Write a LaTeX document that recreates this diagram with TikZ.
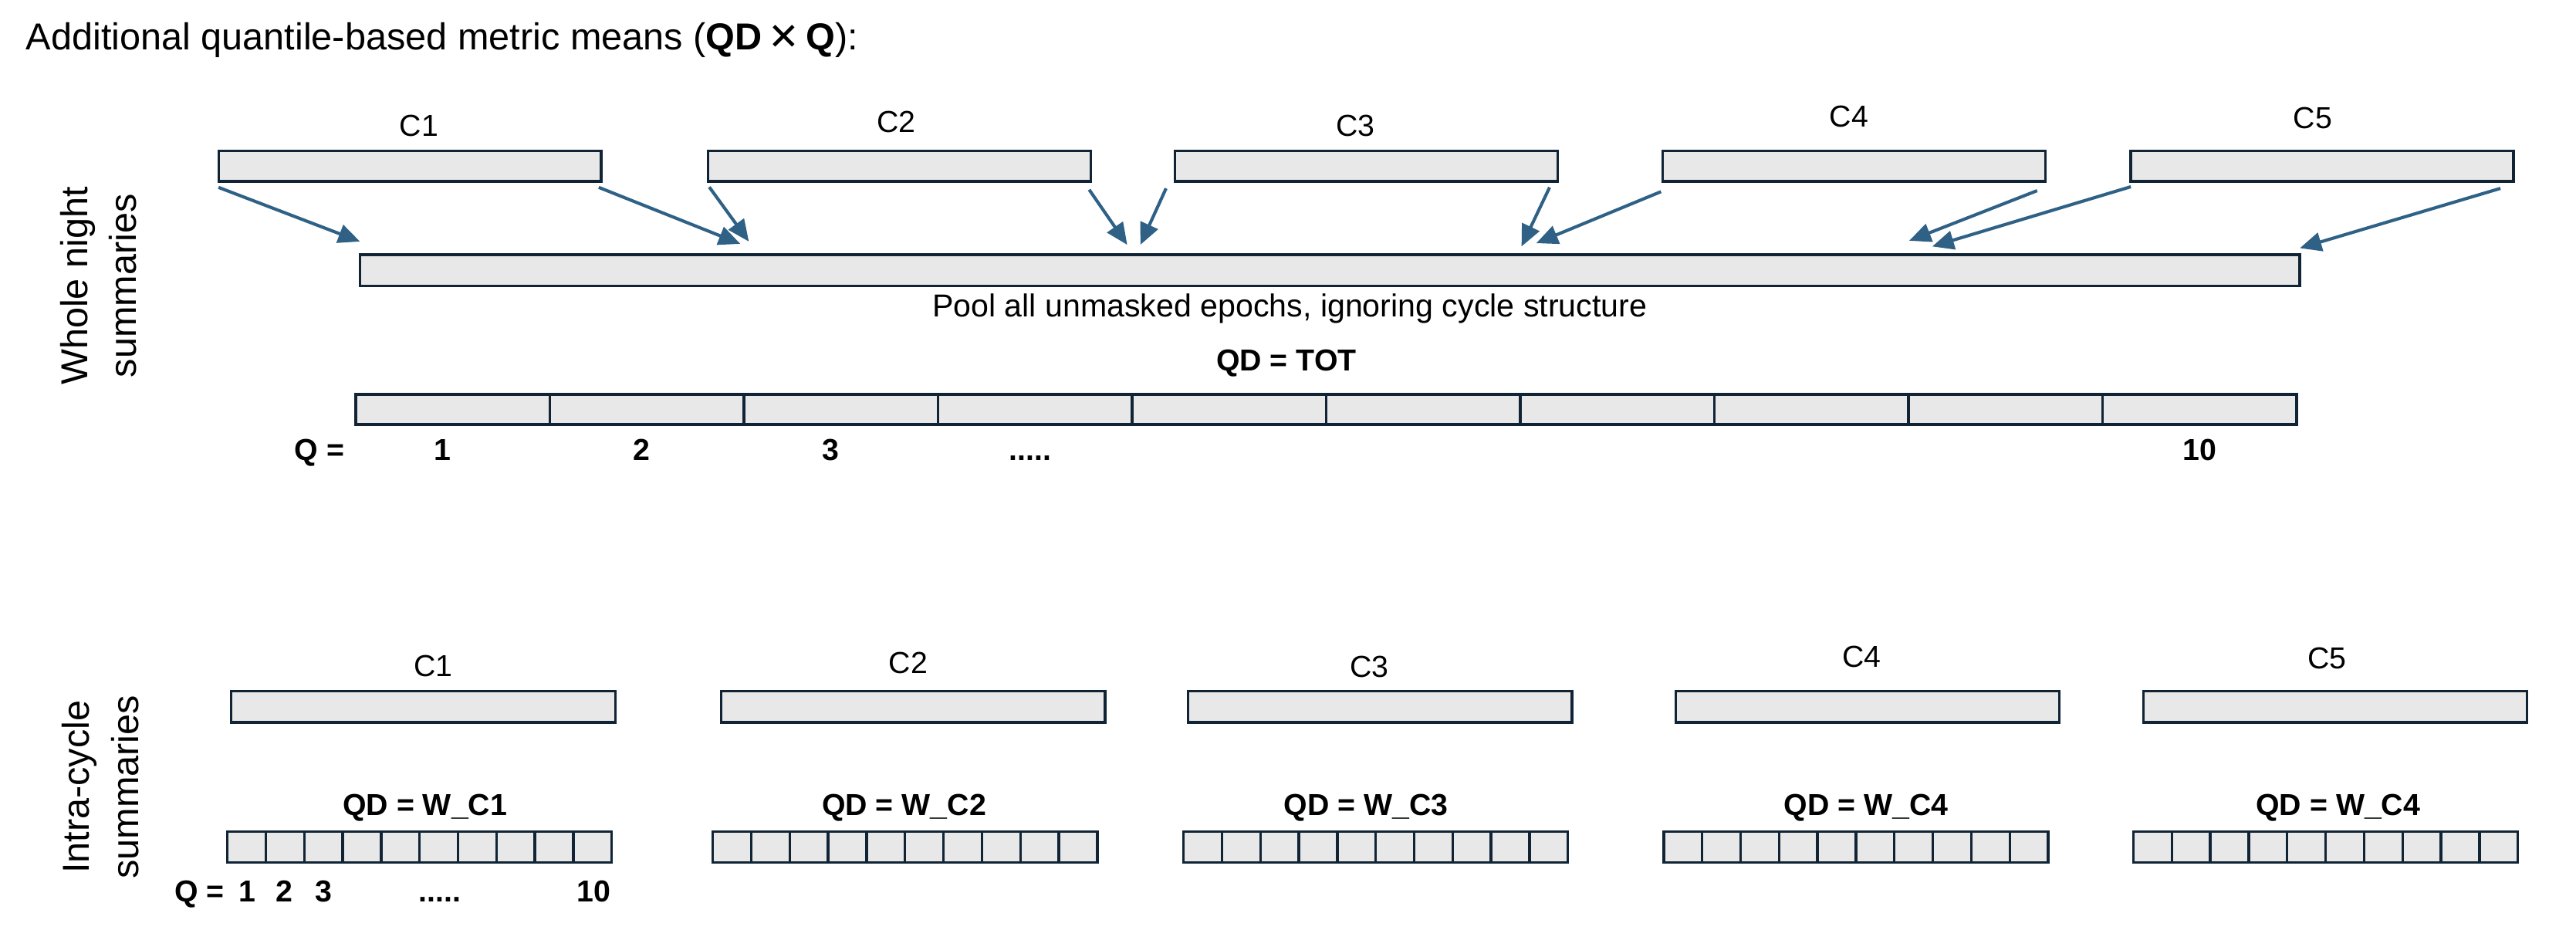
\documentclass[tikz,border=0pt]{standalone}
\usepackage{fontspec}
\setmainfont{Liberation Sans}
\newfontfamily\symfont{DejaVu Sans}
\usetikzlibrary{arrows.meta,calc}
\definecolor{boxfill}{RGB}{232,232,232}
\definecolor{boxline}{RGB}{16,36,54}
\definecolor{arrcol}{RGB}{46,97,133}
\tikzset{
  bar/.style={draw=boxline, fill=boxfill, line width=0.9pt, inner sep=0pt, outer sep=0pt, minimum height=0.37cm},
  topbar/.style={bar, minimum width=4.66cm},
  cyc/.style={bar, minimum width=4.674cm, minimum height=0.38cm},
  qseg/.style={bar, minimum width=2.363cm, minimum height=0.366cm},
  qcell/.style={bar, minimum width=0.468cm, minimum height=0.38cm},
  lbl/.style={inner sep=0pt, anchor=base, font=\fontsize{10.5}{12}\selectfont},
  blbl/.style={inner sep=0pt, anchor=base, font=\fontsize{10.5}{12}\selectfont\bfseries},
  side/.style={inner sep=0pt, rotate=90, align=center, font=\fontsize{13}{17}\selectfont},
  arr/.style={draw=arrcol, line width=1.1pt, -{Triangle[length=7.5pt,width=6.5pt]}}
}
\begin{document}
\begin{tikzpicture}[x=0.02cm, y=-0.02cm]
\useasboundingbox (0,0) rectangle (1568,565.6);
% title
\node[inner sep=0pt, anchor=base west, font=\fontsize{13}{15}\selectfont] (title) at (15.5,30.5)
  {Additional quantile-based metric means (\textbf{QD}\,{\symfont ✕}\,\textbf{Q}):};
% side labels
\node[side] (wn) at (60,174) {Whole night\\summaries};
\node[side] (ic) at (61,479) {Intra-cycle\\summaries};
% top cycle boxes
\node[topbar] (t1) at (249.5,101.2) {};
\node[topbar] (t2) at (547.5,101.2) {};
\node[topbar] (t3) at (831.75,101.2) {};
\node[topbar] (t4) at (1128.5,101.2) {};
\node[topbar] (t5) at (1413.5,101.2) {};
\node[lbl] (lt1) at (255,83) {C1};
\node[lbl] (lt2) at (545.5,80.6) {C2};
\node[lbl] (lt3) at (825,83) {C3};
\node[lbl] (lt4) at (1125.5,77.5) {C4};
\node[lbl] (lt5) at (1407.7,78.3) {C5};
% pool
\node[bar, minimum width=23.62cm, minimum height=0.38cm] (pool) at (809.5,164.5) {};
\node[inner sep=0pt, anchor=base, font=\fontsize{11}{13}\selectfont] (pooltxt) at (785,192.6)
  {Pool all unmasked epochs, ignoring cycle structure};
% arrows
\draw[arr] ($(t1.south west)+(0,3.6)$) -- ($(pool.north west)+(0,-8)$);
\draw[arr] ($(t1.south east)+(-1.5,3.6)$) -- ($(pool.north west)+(231.5,-6.6)$);
\draw[arr] ($(t2.south west)+(0.7,3.4)$) -- ($(pool.north west)+(236.7,-8)$);
\draw[arr] ($(t2.south east)+(-1,5)$) -- ($(pool.north west)+(467,-6)$);
\draw[arr] ($(t3.south west)+(-5.5,4.2)$) -- ($(pool.north west)+(475,-6)$);
\draw[arr] ($(t3.south east)+(-5,3.6)$) -- ($(pool.north west)+(707,-5)$);
\draw[arr] ($(t4.south west)+(-1,6.2)$) -- ($(pool.north west)+(716,-7)$);
\draw[arr] ($(t4.south east)+(-5,5.6)$) -- ($(pool.north west)+(943,-8.5)$);
\draw[arr] ($(t5.south west)+(0,3.2)$) -- ($(pool.north west)+(957,-5)$);
\draw[arr] ($(t5.south east)+(-8,4.2)$) -- ($(pool.north east)+(0,-4)$);
% QD = TOT
\node[blbl] (qdtot) at (783,225.5) {QD = TOT};
\foreach \i in {1,...,10} {
  \node[qseg] (q\i) at ({216.5+118.15*(\i-0.5)},249.15) {};
}
\node[blbl] (qeq) at (194.5,280.3) {Q =};
\node[blbl] (qn1) at (269.5,280.3) {1};
\node[blbl] (qn2) at (390.5,280.3) {2};
\node[blbl] (qn3) at (505.8,280.3) {3};
\node[blbl] (qdots) at (627,280.3) {.....};
\node[blbl] (qn10) at (1339,280.3) {10};
% bottom cycle boxes
\node[cyc] (b1) at (257.65,430.2) {};
\node[cyc] (b2) at (555.75,430.2) {};
\node[cyc] (b3) at (840.05,430.2) {};
\node[cyc] (b4) at (1136.75,430.2) {};
\node[cyc] (b5) at (1421.4,430.2) {};
\node[lbl] (lb1) at (263.6,411.8) {C1};
\node[lbl] (lb2) at (552.9,409.9) {C2};
\node[lbl] (lb3) at (833.6,412) {C3};
\node[lbl] (lb4) at (1133.2,406.3) {C4};
\node[lbl] (lb5) at (1416.5,407) {C5};
% QD labels
\node[blbl] (qw1) at (258.7,496.3) {QD = W\_C1};
\node[blbl] (qw2) at (550.3,496.3) {QD = W\_C2};
\node[blbl] (qw3) at (831.4,496.3) {QD = W\_C3};
\node[blbl] (qw4) at (1135.8,496.3) {QD = W\_C4};
\node[blbl] (qw5) at (1423.2,496.3) {QD = W\_C4};
% cells
\foreach \r/\s in {1/138.4,2/433.9,3/720.4,4/1012.7,5/1298.6} {
  \foreach \i in {1,...,10} {
    \node[qcell] (c\r-\i) at ({\s+23.4*(\i-0.5)},515.5) {};
  }
}
\node[blbl] (bqeq) at (121.5,548.8) {Q =};
\node[blbl] (bq1) at (150.6,548.8) {1};
\node[blbl] (bq2) at (173,548.8) {2};
\node[blbl] (bq3) at (197,548.8) {3};
\node[blbl] (bqdots) at (267.6,548.8) {.....};
\node[blbl] (bq10) at (361.5,548.8) {10};
\end{tikzpicture}
\end{document}
